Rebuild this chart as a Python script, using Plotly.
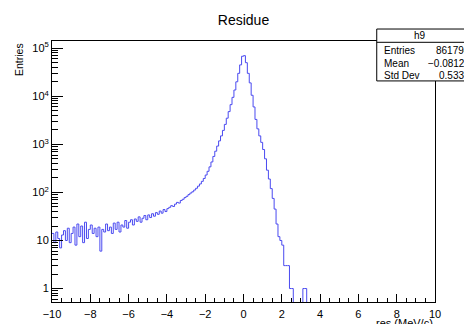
import numpy as np
import plotly.graph_objects as go

# ---- data ----
bin_lo, bin_hi, nbins = -10.0, 10.0, 200
counts = [
    # -10 .. -8
    14, 9, 15, 11, 7, 13, 16, 10, 18, 9, 14, 19, 8, 22, 12, 20, 9, 24, 11, 17,
    # -8 .. -6
    21, 14, 18, 12, 19, 6, 17, 15, 22, 16, 19, 14, 23, 17, 24, 15, 21, 19, 26, 18,
    # -6 .. -4
    24, 27, 21, 28, 25, 31, 24, 29, 33, 27, 34, 30, 36, 32, 38, 35, 41, 37, 44, 40,
    # -4 .. -2
    46, 49, 53, 51, 57, 62, 60, 68, 72, 78, 83, 90, 97, 103, 112, 122, 135, 150, 170, 195,
    # -2 .. 0
    230, 275, 340, 430, 560, 720, 920, 1180, 1500, 1950, 2600, 3500, 4800, 6700, 9500,
    13500, 20000, 30000, 45000, 68000,
    # 0 .. 2
    70000, 50000, 30000, 19000, 10500, 6000, 3300, 2100, 1500, 1100, 780, 500, 290, 190,
    120, 75, 45, 22, 12, 10,
    # 2 .. 4
    8, 3, 3, 3, 1, 1, 0, 0, 0, 0, 0, 1, 1, 0, 0, 0, 0, 0, 0, 0,
    # 4 .. 10
] + [0] * 60

title_text = "Residue"
x_title = "res (MeV/c)"
y_title = "Entries"
x_tickvals = [-10, -8, -6, -4, -2, 0, 2, 4, 6, 8, 10]
y_tickvals = [1, 10, 100, 1000, 10000, 100000]
y_ticktext = ["1", "10", "10<sup>2</sup>", "10<sup>3</sup>", "10<sup>4</sup>", "10<sup>5</sup>"]
stats_name = "h9"
stats_labels = ["Entries", "Mean", "Std Dev"]
stats_values = ["861794", "\u22120.08123", "0.5334"]

# ---- build step line ----
edges = np.linspace(bin_lo, bin_hi, nbins + 1)
c = np.array(counts, dtype=float)
y_plot = np.where(c > 0, c, 1e-3)  # empty bins drop below the axis like ROOT
xs = np.append(edges[:-1], edges[-1])
ys = np.append(y_plot, y_plot[-1])

fig = go.Figure()
fig.add_trace(go.Scatter(x=xs, y=ys, mode="lines", line=dict(color="#4a4af0", width=1, shape="hv"),
                         hoverinfo="skip", showlegend=False))

W, H = 464, 324
L, R, T, B = 51.7, 435.0, 41.0, 302.5
pw, ph = R - L, B - T

def px(xp):
    return (xp - L) / pw

def py(yp):
    return (B - yp) / ph

font = "Liberation Sans, Arial, Helvetica, sans-serif"

fig.update_layout(
    width=W, height=H,
    margin=dict(l=L, r=W - R, t=T, b=H - B, pad=0, autoexpand=False),
    paper_bgcolor="white", plot_bgcolor="white",
    font=dict(family=font, color="black", size=11),
    title=dict(text=title_text, x=0.5, xref="paper", y=1 - 20.5 / H, yanchor="middle",
               xanchor="center", font=dict(size=14, family=font)),
    showlegend=False,
)
fig.update_xaxes(
    range=[bin_lo, bin_hi], tickmode="array", tickvals=x_tickvals,
    ticks="inside", ticklen=8, tickcolor="black", tickwidth=1,
    minor=dict(ticks="inside", ticklen=4, dtick=0.5, tick0=-10, tickcolor="black", showgrid=False),
    showline=True, linecolor="black", linewidth=1, mirror=True,
    showgrid=False, zeroline=False, tickfont=dict(size=11), ticklabelstandoff=2,
    automargin=False,
)
minor_y = [m * 10.0 ** e for e in range(-1, 6) for m in range(2, 10)]
fig.update_yaxes(
    type="log", range=[-0.28, 5.15], tickmode="array", tickvals=y_tickvals, ticktext=y_ticktext,
    ticks="inside", ticklen=11, tickcolor="black", tickwidth=1,
    minor=dict(ticks="inside", ticklen=6, tickvals=minor_y, tickcolor="black", showgrid=False),
    showline=True, linecolor="black", linewidth=1, mirror=True,
    showgrid=False, zeroline=False, tickfont=dict(size=11), automargin=False,
)

# axis titles
fig.add_annotation(text=y_title, xref="paper", yref="paper", x=px(18.7), y=py(41.5),
                   xanchor="center", yanchor="top", textangle=-90, showarrow=False,
                   font=dict(size=10.5, family=font))
fig.add_annotation(text=x_title, xref="paper", yref="paper", x=1.0, y=py(315.5),
                   xanchor="right", yanchor="top", showarrow=False,
                   font=dict(size=11, family=font))

# stats box
bx0, by0, by_sep, by1 = 376.7, 29.0, 42.3, 81.0
fig.add_shape(type="rect", xref="paper", yref="paper", x0=px(bx0), x1=px(470), y0=py(by1), y1=py(by0),
              line=dict(color="black", width=1), fillcolor="white", layer="above")
fig.add_shape(type="line", xref="paper", yref="paper", x0=px(bx0), x1=px(470), y0=py(by_sep), y1=py(by_sep),
              line=dict(color="black", width=1), layer="above")
fig.add_annotation(text=stats_name, xref="paper", yref="paper", x=px((bx0 + 464) / 2), y=py(35.8),
                   xanchor="center", yanchor="middle", showarrow=False, font=dict(size=10, family=font))
row_y = [50.7, 63.3, 76.0]
for lab, val, ry in zip(stats_labels, stats_values, row_y):
    fig.add_annotation(text=lab, xref="paper", yref="paper", x=px(381.5), y=py(ry),
                       xanchor="left", yanchor="middle", showarrow=False, font=dict(size=10, family=font))
    fig.add_annotation(text=val, xref="paper", yref="paper", x=px(472.5), y=py(ry),
                       xanchor="right", yanchor="middle", showarrow=False, font=dict(size=10, family=font))

fig.write_html("out.html", config={"displayModeBar": False},
               post_script="document.body.style.margin='0';document.body.style.overflow='hidden';")
